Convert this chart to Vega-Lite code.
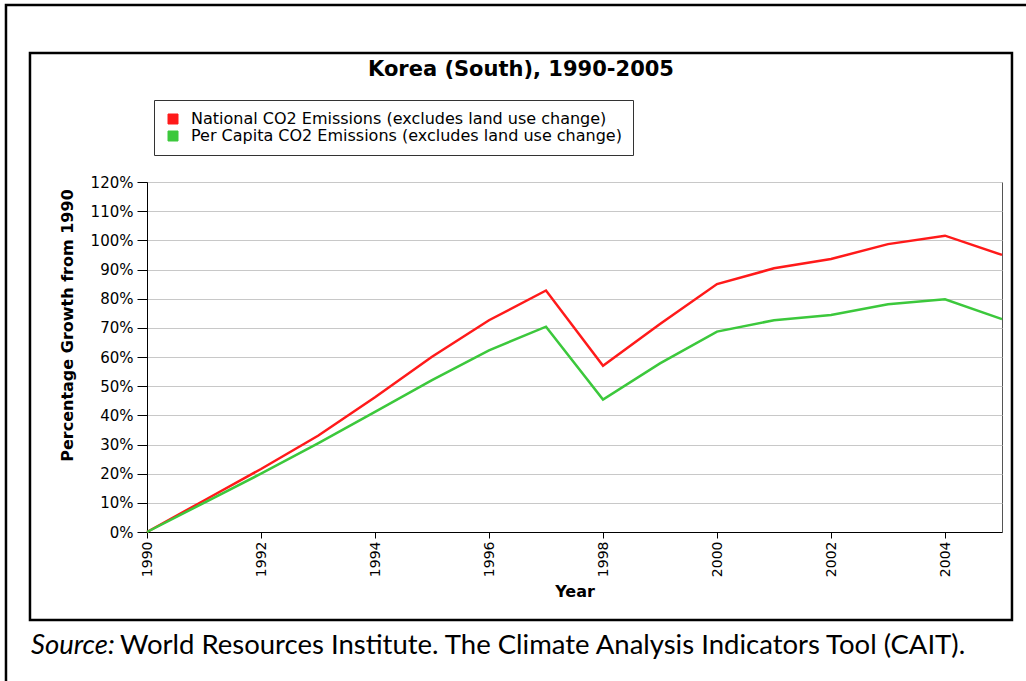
{
  "$schema": "https://vega.github.io/schema/vega-lite/v6.json",
  "width": 855,
  "height": 350,
  "autosize": {"type": "none"},
  "padding": {"left": 147, "top": 182, "right": 24, "bottom": 149},
  "background": "#ffffff",
  "config": {
    "view": {"stroke": "#555555", "strokeWidth": 1},
    "axis": {
      "labelFont": "DejaVu Sans",
      "labelFontSize": 14,
      "labelColor": "#000000",
      "titleFont": "DejaVu Sans",
      "titleFontWeight": "bold",
      "titleColor": "#000000",
      "domainColor": "#000000",
      "tickColor": "#000000",
      "domainWidth": 1,
      "tickWidth": 1,
      "labelOverlap": false
    }
  },
  "resolve": {"axis": {"x": "independent", "y": "independent"}},
  "datasets": {
    "emissions": [
      {"year": 1990, "series": "National CO2 Emissions (excludes land use change)", "growth": 0},
      {"year": 1991, "series": "National CO2 Emissions (excludes land use change)", "growth": 10.8},
      {"year": 1992, "series": "National CO2 Emissions (excludes land use change)", "growth": 21.6},
      {"year": 1993, "series": "National CO2 Emissions (excludes land use change)", "growth": 33.0},
      {"year": 1994, "series": "National CO2 Emissions (excludes land use change)", "growth": 46.2},
      {"year": 1995, "series": "National CO2 Emissions (excludes land use change)", "growth": 60.1},
      {"year": 1996, "series": "National CO2 Emissions (excludes land use change)", "growth": 72.6},
      {"year": 1997, "series": "National CO2 Emissions (excludes land use change)", "growth": 82.8},
      {"year": 1998, "series": "National CO2 Emissions (excludes land use change)", "growth": 57.0},
      {"year": 1999, "series": "National CO2 Emissions (excludes land use change)", "growth": 71.3},
      {"year": 2000, "series": "National CO2 Emissions (excludes land use change)", "growth": 85.0},
      {"year": 2001, "series": "National CO2 Emissions (excludes land use change)", "growth": 90.4},
      {"year": 2002, "series": "National CO2 Emissions (excludes land use change)", "growth": 93.6},
      {"year": 2003, "series": "National CO2 Emissions (excludes land use change)", "growth": 98.7},
      {"year": 2004, "series": "National CO2 Emissions (excludes land use change)", "growth": 101.6},
      {"year": 2005, "series": "National CO2 Emissions (excludes land use change)", "growth": 95.0},
      {"year": 1990, "series": "Per Capita CO2 Emissions (excludes land use change)", "growth": 0},
      {"year": 1991, "series": "Per Capita CO2 Emissions (excludes land use change)", "growth": 10.0},
      {"year": 1992, "series": "Per Capita CO2 Emissions (excludes land use change)", "growth": 20.0},
      {"year": 1993, "series": "Per Capita CO2 Emissions (excludes land use change)", "growth": 30.4},
      {"year": 1994, "series": "Per Capita CO2 Emissions (excludes land use change)", "growth": 41.2},
      {"year": 1995, "series": "Per Capita CO2 Emissions (excludes land use change)", "growth": 52.1},
      {"year": 1996, "series": "Per Capita CO2 Emissions (excludes land use change)", "growth": 62.3},
      {"year": 1997, "series": "Per Capita CO2 Emissions (excludes land use change)", "growth": 70.4},
      {"year": 1998, "series": "Per Capita CO2 Emissions (excludes land use change)", "growth": 45.4},
      {"year": 1999, "series": "Per Capita CO2 Emissions (excludes land use change)", "growth": 57.8},
      {"year": 2000, "series": "Per Capita CO2 Emissions (excludes land use change)", "growth": 68.7},
      {"year": 2001, "series": "Per Capita CO2 Emissions (excludes land use change)", "growth": 72.6},
      {"year": 2002, "series": "Per Capita CO2 Emissions (excludes land use change)", "growth": 74.4},
      {"year": 2003, "series": "Per Capita CO2 Emissions (excludes land use change)", "growth": 78.1},
      {"year": 2004, "series": "Per Capita CO2 Emissions (excludes land use change)", "growth": 79.8},
      {"year": 2005, "series": "Per Capita CO2 Emissions (excludes land use change)", "growth": 73.0}
    ],
    "note": [
      {"label": "Source:", "part": "lead"},
      {"label": "World Resources Institute. The Climate Analysis Indicators Tool (CAIT).", "part": "body"},
      {"label": "Korea (South), 1990-2005", "part": "title"}
    ],
    "frame": [{"name": "box"}]
  },
  "layer": [
    {
      "data": {"name": "emissions"},
      "mark": {"type": "line", "strokeWidth": 2.5, "interpolate": "linear"},
      "encoding": {
        "x": {
          "field": "year",
          "type": "quantitative",
          "scale": {"domain": [1990, 2005], "nice": false, "zero": false},
          "axis": {
            "title": "Year",
            "values": [1990, 1992, 1994, 1996, 1998, 2000, 2002, 2004],
            "format": "d",
            "labelAngle": -90,
            "tickSize": 6,
            "labelPadding": 3,
            "grid": false,
            "titleFontSize": 16,
            "titleY": 59,
            "titleBaseline": "middle"
          }
        },
        "y": {
          "field": "growth",
          "type": "quantitative",
          "scale": {"domain": [0, 120], "nice": false},
          "axis": {
            "title": "Percentage Growth from 1990",
            "values": [0, 10, 20, 30, 40, 50, 60, 70, 80, 90, 100, 110, 120],
            "labelExpr": "datum.value + '%'",
            "labelFontSize": 15,
            "tickSize": 10,
            "labelPadding": 4,
            "grid": true,
            "gridColor": "#c8c8c8",
            "gridWidth": 1.2,
            "titleFontSize": 16,
            "titleX": -80,
            "titleY": 143,
            "titleBaseline": "middle",
            "titleAlign": "center",
            "titleAngle": -90
          }
        },
        "color": {
          "field": "series",
          "type": "nominal",
          "scale": {
            "domain": ["National CO2 Emissions (excludes land use change)", "Per Capita CO2 Emissions (excludes land use change)"],
            "range": ["#ff1a1a", "#3cc83c"]
          },
          "legend": {
            "title": null,
            "orient": "none",
            "legendX": 7,
            "legendY": -82,
            "direction": "vertical",
            "symbolType": "square",
            "symbolSize": 100,
            "symbolStrokeColor": "#000000",
            "symbolStrokeWidth": 1,
            "labelFont": "DejaVu Sans",
            "labelFontSize": 16,
            "labelColor": "#000000",
            "labelLimit": 0,
            "labelOffset": 10,
            "rowPadding": 1,
            "padding": 11,
            "strokeColor": "#333333",
            "fillColor": "#ffffff",
            "encode": {
              "symbols": {
                "enter": {
                  "stroke": {"value": "#000000"},
                  "strokeWidth": {"value": 1}
                },
                "update": {
                  "fill": {"scale": "color", "field": "value"},
                  "fillOpacity": {"value": 1},
                  "stroke": {"value": "#000000"},
                  "strokeWidth": {"value": 1},
                  "strokeOpacity": {"value": 1}
                }
              }
            }
          }
        }
      }
    },
    {
      "data": {"name": "frame"},
      "mark": {"type": "rect", "fill": "transparent", "stroke": "#000000", "strokeWidth": 2.5, "clip": false},
      "encoding": {
        "x": {"datum": 1987.947, "type": "quantitative", "axis": null},
        "x2": {"datum": 2005.175},
        "y": {"datum": 164.23, "type": "quantitative", "axis": null},
        "y2": {"datum": -30.17}
      }
    },
    {
      "data": {"name": "frame"},
      "mark": {"type": "rect", "fill": "transparent", "stroke": "#000000", "strokeWidth": 2.5, "clip": false},
      "encoding": {
        "x": {"datum": 1987.526, "type": "quantitative", "axis": null},
        "x2": {"datum": 2005.6},
        "y": {"datum": 180.69, "type": "quantitative", "axis": null},
        "y2": {"datum": -56}
      }
    },
    {
      "data": {"name": "note"},
      "transform": [{"filter": "datum.part === 'title'"}],
      "mark": {"type": "text", "font": "DejaVu Sans", "fontSize": 21, "fontWeight": "bold", "align": "center", "baseline": "alphabetic", "color": "#000000"},
      "encoding": {
        "x": {"datum": 1996.561, "type": "quantitative", "axis": null},
        "y": {"datum": 156.5, "type": "quantitative", "axis": null},
        "text": {"field": "label"}
      }
    },
    {
      "data": {"name": "note"},
      "transform": [{"filter": "datum.part === 'lead'"}],
      "mark": {"type": "text", "font": "Lato", "fontSize": 27.5, "fontStyle": "italic", "align": "left", "baseline": "alphabetic", "color": "#000000"},
      "encoding": {
        "x": {"datum": 1987.965, "type": "quantitative", "axis": null},
        "y": {"datum": -41.83, "type": "quantitative", "axis": null},
        "text": {"field": "label"}
      }
    },
    {
      "data": {"name": "note"},
      "transform": [{"filter": "datum.part === 'body'"}],
      "mark": {"type": "text", "font": "Lato", "fontSize": 27.5, "align": "left", "baseline": "alphabetic", "color": "#000000"},
      "encoding": {
        "x": {"datum": 1989.526, "type": "quantitative", "axis": null},
        "y": {"datum": -41.83, "type": "quantitative", "axis": null},
        "text": {"field": "label"}
      }
    }
  ]
}
